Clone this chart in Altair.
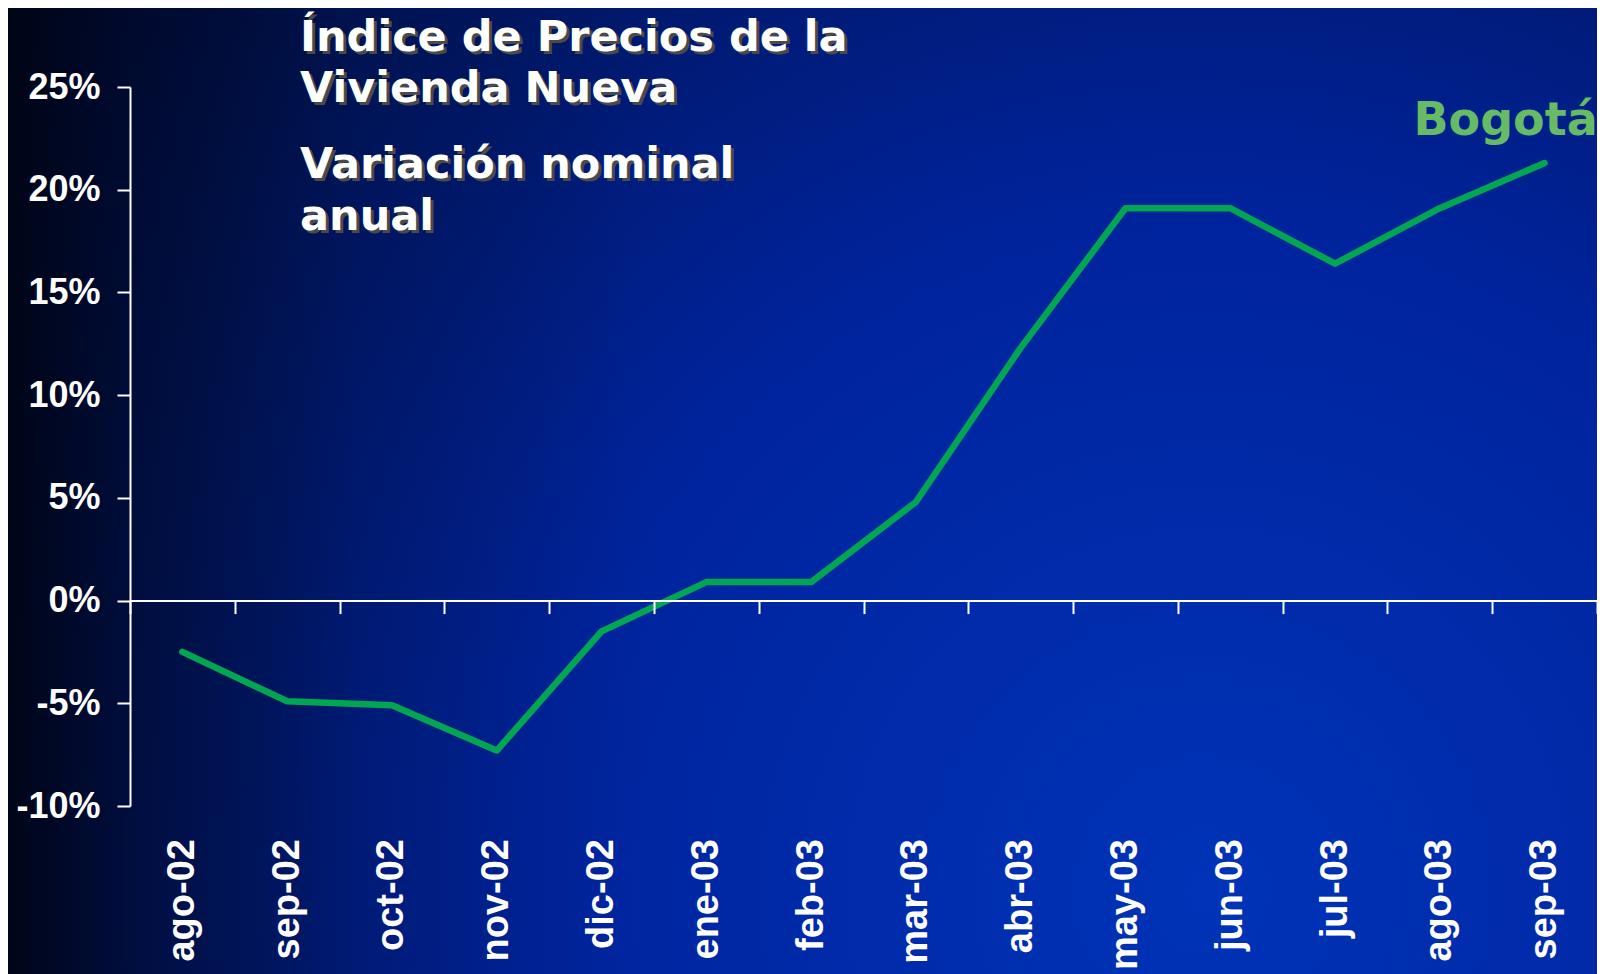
import altair as alt
import pandas as pd

# ---- data ----
months = ["ago-02", "sep-02", "oct-02", "nov-02", "dic-02", "ene-03", "feb-03",
          "mar-03", "abr-03", "may-03", "jun-03", "jul-03", "ago-03", "sep-03"]
values = [-2.5, -4.9, -5.1, -7.3, -1.5, 0.9, 0.9, 4.8, 12.3, 19.1, 19.1, 16.4, 19.1, 21.3]
y_ticks = [-10, -5, 0, 5, 10, 15, 20, 25]
title_lines = ["Índice de Precios de la", "Vivienda Nueva"]
subtitle_lines = ["Variación nominal", "anual"]
series_name = "Bogotá"

# ---- layout ----
W, H = 1467, 719
PAD_L, PAD_T, PAD_B = 122, 79, 168
Y_MIN, Y_MAX = -10, 25

df = pd.DataFrame({"mes": months, "valor": values, "serie": series_name})
one = pd.DataFrame({"k": [0]})

xenc = alt.X(
    "mes:N", sort=months, bandPosition=0.5,
    scale=alt.Scale(type="band", paddingInner=0, paddingOuter=0),
    axis=alt.Axis(
        title=None, orient="bottom", offset=-(H * (0 - Y_MIN) / (Y_MAX - Y_MIN)),
        tickBand="extent", domainColor="white", tickColor="white",
        domainWidth=2, tickWidth=2, tickSize=13,
        labelAngle=-90, labelAlign="right", labelBaseline="middle",
        labelColor="white", labelFont="Liberation Sans", labelFontWeight="bold",
        labelFontSize=38, labelPadding=225, zindex=1,
    ),
)
yenc = alt.Y(
    "valor:Q",
    scale=alt.Scale(domain=[Y_MIN, Y_MAX], nice=False, zero=False),
    axis=alt.Axis(
        title=None, values=y_ticks, labelExpr="datum.value + '%'",
        domainColor="white", tickColor="white", domainWidth=2, tickWidth=2,
        tickSize=13, grid=False, labelColor="white", labelFont="Liberation Sans",
        labelFontWeight="bold", labelFontSize=36, labelPadding=17, zindex=1,
    ),
)

# ---- background ----
bg = alt.Chart(one).mark_rect(
    fill=alt.RadialGradient(
        gradient="radial", x1=0.75, y1=0.75, r1=0, x2=0.75, y2=0.75, r2=0.95,
        stops=[
            alt.GradientStop(color="#0033b8", offset=0),
            alt.GradientStop(color="#00239c", offset=0.45),
            alt.GradientStop(color="#001458", offset=0.8),
            alt.GradientStop(color="#000a30", offset=1),
        ],
    )
).encode(x=alt.value(-PAD_L), x2=alt.value(W + 10), y=alt.value(-PAD_T), y2=alt.value(H + PAD_B))

bg2 = alt.Chart(one).mark_rect(
    fill=alt.LinearGradient(
        gradient="linear", x1=0, y1=0, x2=1, y2=0,
        stops=[
            alt.GradientStop(color="rgba(0,4,20,0.95)", offset=0),
            alt.GradientStop(color="rgba(0,6,30,0.55)", offset=0.08),
            alt.GradientStop(color="rgba(0,6,30,0.15)", offset=0.22),
            alt.GradientStop(color="rgba(0,0,0,0)", offset=0.4),
        ],
    )
).encode(x=alt.value(-PAD_L), x2=alt.value(W + 10), y=alt.value(-PAD_T), y2=alt.value(H + PAD_B))

# ---- titles ----
def title_text(txt, px, py):
    shadow = alt.Chart(one).mark_text(
        text=txt, font="DejaVu Sans", fontWeight="bold", fontSize=43,
        align="left", baseline="alphabetic", color="#4a4a4a",
    ).encode(x=alt.value(px + 3), y=alt.value(py + 3))
    main = alt.Chart(one).mark_text(
        text=txt, font="DejaVu Sans", fontWeight="bold", fontSize=43,
        align="left", baseline="alphabetic", color="white",
    ).encode(x=alt.value(px), y=alt.value(py))
    return [shadow, main]

titles = []
for txt, py in zip(title_lines + subtitle_lines, [-36, 15, 91, 143]):
    titles += title_text(txt, 170, py)

# ---- data marks ----
base = alt.Chart(df).encode(x=xenc, y=yenc)
line = base.mark_line(color="#00a651", strokeWidth=6.5, strokeCap="round", strokeJoin="round")
label = base.mark_text(
    font="DejaVu Sans", fontWeight="bold", fontSize=46, color="#66bb66",
    align="center", baseline="alphabetic", dx=-39, dy=-28,
).encode(text="serie:N").transform_filter(alt.datum.mes == months[-1])

chart = alt.layer(bg, bg2, *titles, line, label).properties(
    width=W, height=H,
    autosize=alt.AutoSizeParams(type="none"),
    padding={"left": PAD_L, "top": PAD_T, "right": 0, "bottom": PAD_B},
    background="#000c40",
).configure_view(stroke=None)

chart.save("out.html", embed_options={"renderer": "svg", "actions": False})
